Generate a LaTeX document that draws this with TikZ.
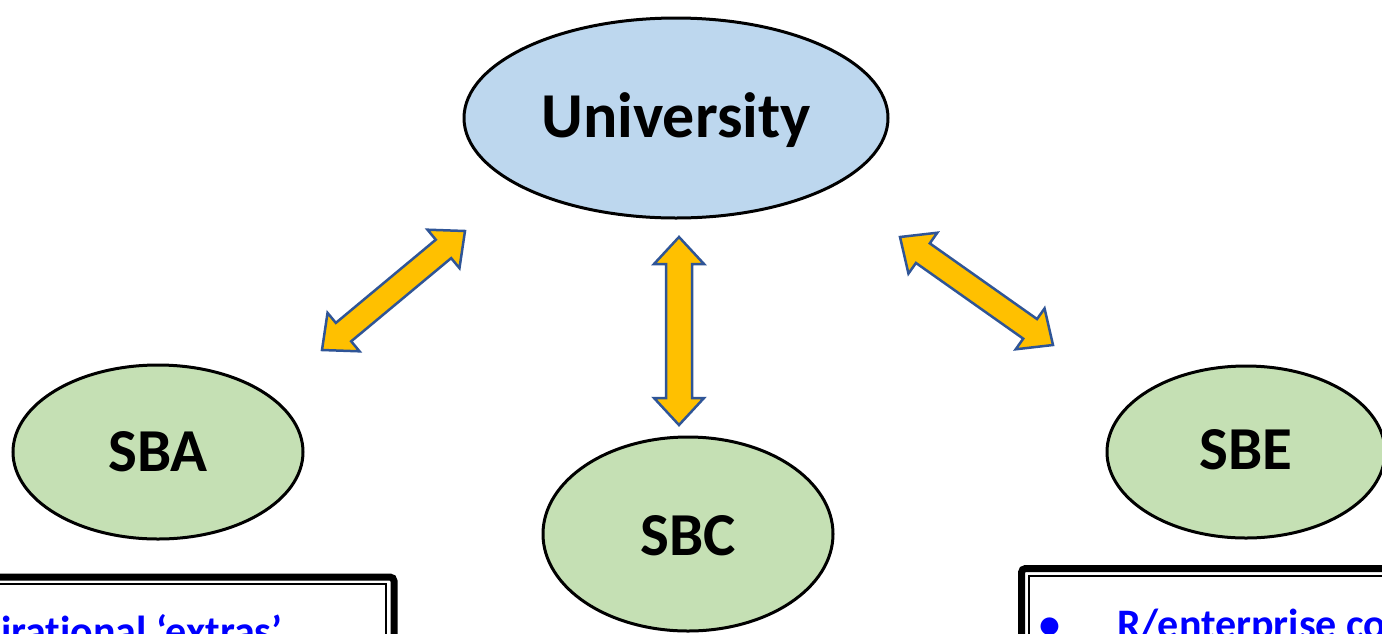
\documentclass[tikz,border=0pt]{standalone}
\usepackage{fontspec}
\setmainfont[Ligatures=NoCommon]{Carlito}
\usetikzlibrary{shapes.geometric,calc}
\definecolor{unifill}{HTML}{BDD7EE}
\definecolor{sbfill}{HTML}{C5E0B4}
\definecolor{arrowyellow}{HTML}{FFC000}
\definecolor{arrowblue}{HTML}{2F5597}
\definecolor{textblue}{HTML}{0000FF}
\newcommand\dblarrow[5]{%
  \path ($(#1)!#3!(#2)$) coordinate (p) ($(#2)!#3!(#1)$) coordinate (q);
  \draw[blockarrow] (#1) -- ($(p)!#4!90:(#2)$) -- ($(p)!#5!90:(#2)$)
    -- ($(q)!#5!-90:(#1)$) -- ($(q)!#4!-90:(#1)$) -- (#2)
    -- ($(q)!#4!90:(#1)$) -- ($(q)!#5!90:(#1)$)
    -- ($(p)!#5!-90:(#2)$) -- ($(p)!#4!-90:(#2)$) -- cycle;
}
\begin{document}
\begin{tikzpicture}[x=1pt,y=-1pt,
  oval/.style={ellipse, draw=black, line width=3pt, inner sep=0pt,
    text height=38pt, text depth=0pt, font=\bfseries\fontsize{61}{63}\selectfont},
  blockarrow/.style={fill=arrowyellow, draw=arrowblue, line width=2.5pt, line join=miter},
  bluefont/.style={text=textblue, font=\bfseries\fontsize{42}{46}\selectfont, inner sep=0pt},
  bluetext/.style={bluefont, anchor=base west},
  thickframe/.style={draw=black, line width=7pt, rounded corners=4pt},
  thinframe/.style={draw=black, line width=2pt}
]
\useasboundingbox (0,0) rectangle (1382,633);
\clip (0,0) rectangle (1382,633);

% ovals
\node[oval, fill=unifill, minimum width=424pt, minimum height=200pt,
  font=\bfseries\fontsize{64}{66}\selectfont] (uni) at (676,118) {University};
\node[oval, fill=sbfill, minimum width=290pt, minimum height=174pt] (sba) at (158,452) {SBA};
\node[oval, fill=sbfill, minimum width=290pt, minimum height=194pt, text height=42pt] (sbc) at (688,534) {SBC};
\node[oval, fill=sbfill, minimum width=278pt, minimum height=172pt, text height=34pt] (sbe) at (1246,452) {SBE};

% arrows
\coordinate (la1) at (322,350);
\coordinate (la2) at (465,231);
\coordinate (ma1) at (679,237);
\coordinate (ma2) at (679,425);
\coordinate (ra1) at (900,237);
\coordinate (ra2) at (1053,345);
\dblarrow{la1}{la2}{28pt}{25pt}{12pt}
\dblarrow{ma1}{ma2}{27pt}{25pt}{13pt}
\dblarrow{ra1}{ra2}{28pt}{25pt}{12pt}

% boxes
\draw[thickframe] (-20,577) -- (394,577) -- (394,700);
\draw[thinframe] (-20,584) -- (386,584) -- (386,700);
\draw[thickframe] (1400,568.5) -- (1021.5,568.5) -- (1021.5,700);
\draw[thinframe] (1400,576) -- (1029,576) -- (1029,700);

\node[bluetext] (ltext) at (1,645) {irational ‘extras’};
\node[bluefont, anchor=base] (bullet) at (1050,638) {•};
\node[bluetext] (rtext) at (1117,638) {R/enterprise co};
\end{tikzpicture}
\end{document}
